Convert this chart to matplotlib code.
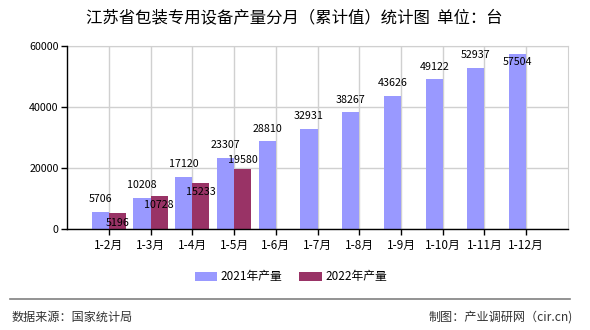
import numpy as np
import matplotlib
matplotlib.use("Agg")
import matplotlib.pyplot as plt
from matplotlib.lines import Line2D

plt.rcParams["font.family"] = ["Noto Sans CJK SC", "DejaVu Sans"]

months = ["1-2月", "1-3月", "1-4月", "1-5月", "1-6月", "1-7月", "1-8月",
          "1-9月", "1-10月", "1-11月", "1-12月"]
prod_2021 = [5706, 10208, 17120, 23307, 28810, 32931, 38267, 43626, 49122, 52937, 57504]
prod_2022 = [5196, 10728, 15233, 19580]

# label offsets in points (the reference puts some labels below the bar top)
off_2021 = [9, 9, 9, 9, 9, 9, 9, 9, 9, 9, -6]
off_2022 = [-7, -6, -7, 7]

c2021 = "#9999FF"
c2022 = "#993366"

fig = plt.figure(figsize=(5.9, 3.3), dpi=100)
ax = fig.add_axes([0.1136, 0.3061, 0.8491, 0.5545])

x = np.arange(len(months))
w = 0.41
ax.bar(x - w / 2, prod_2021, width=w, color=c2021, zorder=2, label="2021年产量")
x2 = np.arange(len(prod_2022))
ax.bar(x2 + w / 2, prod_2022, width=w, color=c2022, zorder=2, label="2022年产量")

for xi, v, o in zip(x, prod_2021, off_2021):
    ax.annotate(str(v), (xi - w / 2, v), xytext=(0, o), textcoords="offset points",
                ha="center", va="center", fontsize=7.7, zorder=3)
for xi, v, o in zip(x2, prod_2022, off_2022):
    ax.annotate(str(v), (xi + w / 2, v), xytext=(0, o), textcoords="offset points",
                ha="center", va="center", fontsize=7.7, zorder=3)

ax.set_xlim(-1, len(months))
ax.set_ylim(0, 60000)
ax.set_yticks([0, 20000, 40000, 60000])
ax.set_xticks(x)
ax.set_xticklabels(months, fontsize=8.5)
ax.tick_params(axis="y", labelsize=7.7, length=4, width=1, direction="out", pad=2)
ax.tick_params(axis="x", length=4, width=1, direction="out", pad=3)

ax.grid(True, color="#d0d0d0", linewidth=1, zorder=0)
for s in ["top", "right"]:
    ax.spines[s].set_color("#d0d0d0")
for s in ["left", "bottom"]:
    ax.spines[s].set_color("black")
    ax.spines[s].set_linewidth(1)
ax.spines["left"].set_zorder(4)
ax.spines["bottom"].set_zorder(4)

fig.text(0.498, 0.945, "江苏省包装专用设备产量分月（累计值）统计图  单位：台",
         ha="center", va="center", fontsize=11.8)

fig.legend(loc="center", bbox_to_anchor=(0.493, 0.161), ncol=2, frameon=False,
           fontsize=8.5, handlelength=1.9, handleheight=0.8, columnspacing=1.4,
           handletextpad=0.3)

fig.add_artist(Line2D([10 / 590, 570 / 590], [1 - 299 / 330, 1 - 299 / 330],
                      color="#808080", linewidth=1.2))
fig.text(12 / 590, 1 - 317 / 330, "数据来源：国家统计局", ha="left", va="center",
         fontsize=8.7, color="#333333")
fig.text(573 / 590, 1 - 317 / 330, "制图：产业调研网（cir.cn)", ha="right", va="center",
         fontsize=8.7, color="#333333")

fig.savefig("out.png", dpi=100)
